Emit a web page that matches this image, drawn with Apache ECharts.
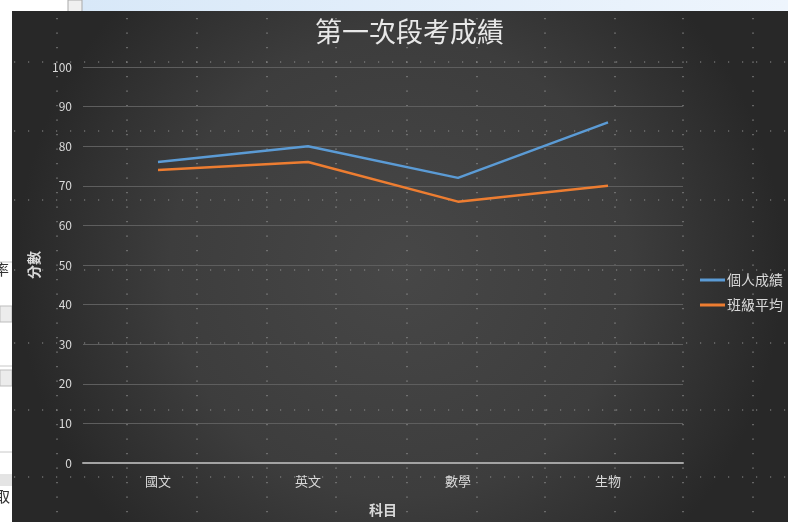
<!DOCTYPE html>
<html>
<head>
<meta charset="utf-8">
<script src="https://cdn.jsdelivr.net/npm/echarts@6/dist/echarts.min.js"></script>
<style>
  html, body { margin: 0; padding: 0; background: #ffffff; }
  #chart { width: 788px; height: 522px; }
</style>
</head>
<body>
<div id="chart"></div>
<script>
// 科目 (categories) and scores
const subjects = ['國文', '英文', '數學', '生物'];
const personalScores = [76, 80, 72, 86];
const classAverage = [74, 76, 66, 70];
const seriesNames = ['個人成績', '班級平均'];
const yTicks = { min: 0, max: 100, interval: 10 };

// decorative dotted background pattern (chart style texture)
const dotRows = [62, 131, 200, 270, 343, 410, 477];
const dotCols = [57, 127, 197, 267, 336, 407, 477, 545, 615, 683, 753];

const FONT = '"Noto Sans CJK TC", "Noto Sans", sans-serif';
const chart = echarts.init(document.getElementById('chart'), null, { renderer: 'canvas' });

const bg = [];
// window chrome above the chart
bg.push({ type: 'rect', z: -30, shape: { x: 0, y: 0, width: 788, height: 522 }, style: { fill: '#ffffff' } });
bg.push({ type: 'rect', z: -29, shape: { x: 82, y: 0, width: 706, height: 12 },
  style: { fill: { type: 'linear', x: 0, y: 0, x2: 1, y2: 0, colorStops: [
    { offset: 0, color: '#d8e8f8' }, { offset: 1, color: '#eef5fd' } ] } } });
bg.push({ type: 'rect', z: -29, shape: { x: 68, y: 0, width: 14, height: 12 }, style: { fill: '#f0f0f0', stroke: '#a9a9a9', lineWidth: 1 } });
// spreadsheet fragments on the left
bg.push({ type: 'line', z: -29, shape: { x1: 0, y1: 262, x2: 12, y2: 262 }, style: { stroke: '#c8c8c8', lineWidth: 1 } });
bg.push({ type: 'rect', z: -29, shape: { x: 0, y: 306, width: 12, height: 16 }, style: { fill: '#ececec', stroke: '#bdbdbd' } });
bg.push({ type: 'line', z: -29, shape: { x1: 0, y1: 366, x2: 12, y2: 366 }, style: { stroke: '#c8c8c8', lineWidth: 1 } });
bg.push({ type: 'rect', z: -29, shape: { x: 0, y: 370, width: 12, height: 16 }, style: { fill: '#ececec', stroke: '#bdbdbd' } });
bg.push({ type: 'line', z: -29, shape: { x1: 0, y1: 452, x2: 12, y2: 452 }, style: { stroke: '#c8c8c8', lineWidth: 1 } });
bg.push({ type: 'line', z: -29, shape: { x1: 0, y1: 475, x2: 12, y2: 475 }, style: { stroke: '#c8c8c8', lineWidth: 1 } });
bg.push({ type: 'rect', z: -29, shape: { x: 0, y: 476, width: 12, height: 10 }, style: { fill: '#e4e4e4' } });
bg.push({ type: 'text', z: -29, style: { x: -6, y: 262, text: '率', fill: '#333', font: '15px ' + FONT } });
bg.push({ type: 'text', z: -29, style: { x: -5, y: 489, text: '取', fill: '#333', font: '15px ' + FONT } });

// dark chart area
bg.push({ type: 'rect', z: -20, shape: { x: 12, y: 11, width: 776, height: 511 },
  style: { fill: { type: 'radial', x: 0.5, y: 0.5, r: 0.75, colorStops: [
    { offset: 0, color: '#474747' }, { offset: 0.6, color: '#3d3d3d' }, { offset: 1, color: '#282828' } ] } } });

// dotted texture
dotRows.forEach(function (y) {
  bg.push({ type: 'line', z: -10, shape: { x1: 14, y1: y, x2: 788, y2: y },
    style: { stroke: '#8f8f8f', lineWidth: 1.2, lineDash: [1.2, 12.8] } });
});
dotCols.forEach(function (x) {
  bg.push({ type: 'line', z: -10, shape: { x1: x, y1: 18, x2: x, y2: 522 },
    style: { stroke: '#8f8f8f', lineWidth: 1.2, lineDash: [1.2, 13.3] } });
});

const seriesData = [personalScores, classAverage];
const seriesColors = ['#5b9bd5', '#ed7d31'];

chart.setOption({
  backgroundColor: 'transparent',
  animation: false,
  graphic: bg,
  title: {
    text: '第一次段考成績',
    left: 315,
    top: 18,
    padding: 0,
    textStyle: { color: '#e8e8e8', fontSize: 27, fontWeight: 'normal', fontFamily: FONT }
  },
  legend: {
    orient: 'vertical',
    left: 700,
    top: 273,
    itemWidth: 25,
    itemHeight: 3,
    itemGap: 11,
    icon: 'rect',
    padding: 0,
    data: seriesNames,
    textStyle: { color: '#d9d9d9', fontSize: 14, fontFamily: FONT, padding: [0, 0, 0, -3] }
  },
  grid: { left: 83, right: 105, top: 67, bottom: 56 },
  xAxis: {
    type: 'category',
    data: subjects,
    boundaryGap: true,
    name: '科目',
    nameLocation: 'middle',
    nameGap: 40,
    nameTextStyle: { color: '#d9d9d9', fontSize: 14, fontWeight: 'bold', fontFamily: FONT },
    axisLine: { show: true, lineStyle: { color: '#a3a3a3', width: 2 } },
    axisTick: { show: false },
    axisLabel: { color: '#d9d9d9', fontSize: 13, fontFamily: FONT, margin: 12 },
    splitLine: { show: false }
  },
  yAxis: {
    type: 'value',
    min: yTicks.min,
    max: yTicks.max,
    interval: yTicks.interval,
    name: '分數',
    nameLocation: 'middle',
    nameRotate: 90,
    nameGap: 42,
    nameTextStyle: { color: '#d9d9d9', fontSize: 14, fontWeight: 'bold', fontFamily: FONT },
    axisLine: { show: false },
    axisTick: { show: false },
    axisLabel: { color: '#d9d9d9', fontSize: 12, fontFamily: FONT, margin: 11 },
    splitLine: { show: true, lineStyle: { color: '#5e5e5e', width: 1 } }
  },
  series: seriesNames.map(function (name, i) {
    return {
      name: name,
      type: 'line',
      data: seriesData[i],
      color: seriesColors[i],
      symbol: 'none',
      lineStyle: { width: 2.5, color: seriesColors[i] },
      z: 3
    };
  })
});
</script>
</body>
</html>
